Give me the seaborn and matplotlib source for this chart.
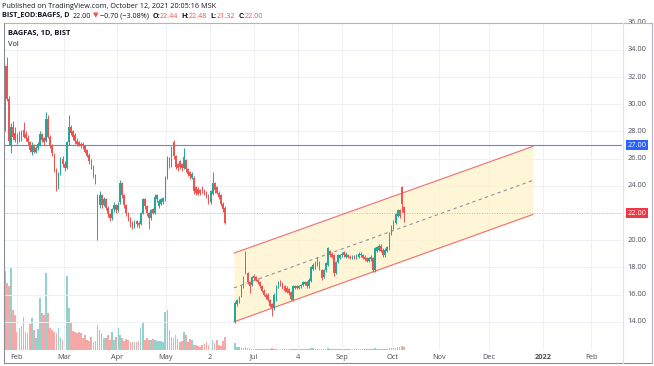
import numpy as np
import matplotlib
matplotlib.use("Agg")
import matplotlib.pyplot as plt
from matplotlib.lines import Line2D
import seaborn as sns

# ---------------------------------------------------------------------------
# Data (BAGFS daily, 2021)
# ---------------------------------------------------------------------------
# segment 1: late Jan -> early Jun
opens1 = [28.4, 32.8, 30.4, 27.0, 28.3, 27.9, 27.6, 27.8, 27.4, 28.1,
          27.8, 27.5, 27.2, 26.5, 27.0, 26.5, 26.8, 27.0, 27.8, 27.5,
          27.3, 28.9, 27.6, 27.0, 26.3, 25.2, 24.0, 24.9, 26.0, 25.6,
          25.3, 27.2, 28.3, 28.0, 27.7, 27.3, 27.2, 27.1, 27.1, 26.9,
          26.6, 26.3, 25.9, 25.4, 24.8, 20.5, 22.6, 23.3, 22.6, 23.0,
          22.4, 21.9, 21.6, 22.3, 22.6, 22.2, 22.8, 24.2, 23.3, 22.6,
          22.0, 21.6, 21.3, 21.0, 21.4, 21.3, 21.2, 22.0, 23.0, 22.5,
          22.0, 21.6, 22.3, 22.0, 23.0, 22.5, 22.7, 22.8, 23.0, 24.6,
          26.0, 25.5, 27.2, 26.2, 25.6, 25.8, 25.6, 25.3, 25.9, 25.2,
          25.0, 24.6, 24.6, 23.9, 23.8, 23.7, 23.9, 23.7, 23.5, 23.3,
          22.8, 23.4, 24.2, 23.9, 23.5, 23.3, 22.7, 22.4]
closes1 = [32.6, 30.4, 27.3, 28.3, 27.6, 27.4, 27.3, 27.4, 27.9, 27.6,
           27.5, 27.2, 26.6, 27.0, 26.5, 26.8, 27.1, 27.8, 27.4, 27.2,
           28.9, 27.6, 27.0, 26.4, 25.2, 24.0, 24.9, 26.0, 25.6, 25.3,
           27.2, 28.3, 27.9, 27.6, 27.3, 27.1, 27.0, 27.0, 26.9, 26.5,
           26.2, 25.8, 25.4, 24.8, 24.3, 22.6, 23.3, 22.6, 23.0, 22.4,
           21.9, 21.6, 22.3, 22.6, 22.2, 22.6, 24.2, 23.3, 22.6, 22.0,
           21.6, 21.2, 21.0, 21.3, 21.2, 21.1, 22.0, 23.0, 22.5, 22.0,
           21.6, 22.2, 22.0, 23.2, 23.3, 22.9, 23.0, 23.1, 24.6, 26.0,
           25.5, 26.7, 26.2, 25.4, 25.3, 25.4, 25.3, 26.1, 25.2, 24.9,
           24.7, 24.9, 23.6, 23.5, 23.4, 23.5, 23.6, 23.4, 23.2, 22.8,
           23.6, 24.2, 23.7, 23.5, 23.2, 22.7, 22.3, 21.3]
highs1 = [32.9, 33.5, 30.6, 28.6, 28.8, 28.3, 27.9, 28.0, 28.1, 28.7,
          28.0, 27.7, 27.3, 27.2, 27.1, 26.9, 27.2, 28.0, 27.9, 27.6,
          29.4, 29.2, 27.7, 27.1, 26.4, 25.3, 25.0, 26.1, 26.2, 25.8,
          27.3, 29.2, 28.5, 28.1, 27.9, 27.5, 27.3, 27.2, 27.2, 27.0,
          26.7, 26.4, 26.0, 25.5, 24.9, 23.4, 23.6, 23.4, 23.2, 23.1,
          22.5, 22.0, 22.4, 22.8, 22.7, 22.8, 24.4, 24.3, 23.4, 22.7,
          22.1, 21.7, 21.4, 21.5, 21.5, 21.4, 22.1, 23.1, 23.1, 22.6,
          22.1, 22.3, 22.4, 23.4, 23.4, 23.0, 23.1, 23.2, 24.7, 26.2,
          26.1, 26.9, 27.4, 26.3, 25.7, 25.9, 25.7, 26.8, 26.0, 25.3,
          25.1, 25.0, 24.7, 24.0, 23.9, 23.8, 24.0, 23.8, 23.6, 23.4,
          23.7, 25.0, 24.3, 24.0, 23.6, 23.4, 22.8, 22.5]
lows1 = [28.0, 30.2, 27.0, 26.4, 27.4, 27.2, 27.1, 27.2, 27.3, 27.5,
         27.3, 27.0, 26.5, 26.3, 26.4, 26.4, 26.6, 26.9, 27.2, 27.0,
         27.2, 27.5, 26.8, 26.2, 25.0, 23.6, 23.8, 24.8, 25.4, 25.1,
         25.2, 27.0, 27.7, 27.4, 27.1, 26.9, 26.9, 26.8, 26.7, 26.4,
         26.1, 25.6, 25.2, 24.6, 24.1, 20.0, 22.4, 22.4, 22.5, 22.2,
         21.7, 21.4, 21.5, 22.1, 22.0, 22.1, 22.7, 23.1, 22.4, 21.8,
         21.4, 21.0, 20.8, 20.9, 21.0, 20.9, 21.1, 21.9, 22.3, 21.8,
         20.8, 21.5, 21.9, 21.9, 22.8, 22.4, 22.6, 22.7, 22.9, 24.5,
         25.3, 25.4, 26.0, 25.2, 25.1, 25.2, 25.1, 25.2, 25.0, 24.7,
         24.5, 24.5, 23.4, 23.3, 23.3, 23.3, 23.5, 23.3, 23.1, 22.7,
         22.7, 23.3, 23.5, 23.4, 23.0, 22.5, 22.1, 21.2]
volumes1 = [235, 200, 190, 245, 120, 105, 55, 65, 73, 100,
            55, 50, 77, 95, 60, 35, 63, 155, 110, 105,
            230, 110, 65, 60, 55, 50, 65, 40, 30, 30,
            220, 125, 80, 57, 55, 50, 55, 50, 35, 45,
            30, 27, 40, 25, 27, 75, 60, 50, 37, 35,
            45, 30, 55, 30, 40, 65, 45, 37, 27, 33,
            30, 25, 25, 25, 23, 27, 65, 83, 30, 35,
            30, 30, 33, 30, 27, 27, 27, 25, 115, 120,
            60, 40, 37, 45, 33, 25, 27, 55, 45, 25,
            33, 30, 15, 15, 13, 10, 15, 17, 23, 15,
            23, 30, 20, 30, 15, 13, 27, 40]

# segment 2: late Jun -> Oct 12
opens2 = [14.0, 15.3, 15.5, 15.9, 16.6, 19.1, 17.6, 16.9, 16.7, 17.4,
          17.3, 17.1, 16.9, 16.6, 16.3, 16.0, 16.0, 15.6, 15.3, 15.0,
          15.6, 16.6, 17.0, 16.8, 16.6, 16.5, 16.4, 16.2, 15.6, 16.5,
          16.6, 16.5, 16.6, 16.7, 16.8, 16.9, 16.6, 17.0, 17.9, 18.0,
          18.2, 18.4, 17.8, 17.3, 17.8, 18.2, 19.2, 19.0, 18.9, 17.6,
          18.4, 18.7, 18.9, 19.1, 18.8, 18.9, 18.8, 18.7, 18.8, 18.7,
          18.8, 18.9, 18.9, 18.8, 18.7, 18.5, 18.6, 18.7, 17.8, 19.2,
          19.3, 19.6, 19.3, 18.9, 19.2, 19.4, 20.5, 20.9, 21.3, 21.8,
          22.2, 23.9, 22.44]
closes2 = [15.4, 15.6, 15.8, 16.6, 17.3, 17.6, 16.9, 16.6, 17.3, 17.2,
           17.1, 16.9, 16.6, 16.3, 16.0, 15.8, 15.6, 15.2, 15.0, 16.0,
           16.6, 16.9, 16.7, 16.5, 16.3, 16.2, 16.1, 15.7, 16.6, 16.6,
           16.5, 16.6, 16.7, 16.9, 16.9, 16.6, 17.1, 18.0, 18.2, 18.4,
           18.5, 17.9, 17.2, 17.8, 18.3, 19.4, 18.9, 18.8, 17.6, 18.4,
           18.9, 18.9, 19.0, 18.9, 19.0, 18.8, 18.7, 18.8, 18.7, 18.9,
           19.0, 19.0, 18.7, 18.6, 18.5, 18.7, 18.8, 17.8, 19.4, 19.5,
           19.6, 19.2, 18.9, 19.3, 19.5, 20.5, 21.0, 21.4, 21.9, 22.2,
           21.8, 22.7, 22.00]
highs2 = [15.5, 15.7, 15.9, 16.7, 17.4, 19.2, 17.7, 17.0, 17.4, 17.5,
          17.4, 17.2, 17.0, 16.7, 16.4, 16.1, 16.1, 15.7, 15.4, 16.1,
          16.7, 17.0, 17.1, 16.9, 16.7, 16.6, 16.5, 16.3, 16.7, 16.7,
          16.7, 16.7, 16.8, 17.0, 17.0, 17.0, 17.2, 18.1, 18.3, 18.5,
          18.8, 18.5, 17.9, 17.9, 18.4, 19.5, 19.3, 19.1, 19.0, 18.5,
          19.0, 19.0, 19.1, 19.2, 19.1, 19.0, 18.9, 18.9, 18.9, 19.0,
          19.1, 19.1, 19.0, 18.9, 18.8, 18.8, 18.9, 18.8, 19.5, 19.6,
          19.7, 19.7, 19.4, 19.4, 19.6, 20.6, 21.1, 21.5, 22.0, 22.3,
          22.3, 24.0, 22.48]
lows2 = [13.9, 15.2, 15.4, 15.8, 16.5, 17.5, 16.8, 16.1, 16.6, 17.1,
         17.0, 16.8, 16.5, 16.2, 15.9, 15.7, 15.5, 15.1, 14.4, 14.9,
         15.5, 16.5, 16.6, 16.4, 16.2, 16.1, 16.0, 15.6, 15.5, 16.4,
         16.4, 16.4, 16.5, 16.6, 16.7, 16.5, 16.5, 16.9, 17.8, 17.9,
         18.1, 17.8, 17.1, 17.2, 17.7, 18.1, 18.8, 18.7, 17.4, 17.5,
         18.3, 18.6, 18.8, 18.8, 18.7, 18.7, 18.6, 18.6, 18.6, 18.6,
         18.7, 18.8, 18.6, 18.5, 18.4, 18.4, 18.5, 17.7, 17.7, 19.1,
         19.2, 19.1, 18.8, 18.8, 19.1, 19.3, 20.4, 20.8, 21.2, 21.7,
         21.6, 22.1, 21.32]
volumes2 = [22, 10, 8, 6, 7, 9, 6, 5, 4, 4,
            3, 3, 4, 3, 3, 3, 4, 3, 5, 4,
            4, 3, 3, 3, 3, 3, 3, 3, 4, 3,
            3, 3, 3, 3, 3, 3, 4, 7, 5, 4,
            4, 3, 3, 3, 4, 6, 4, 3, 4, 3,
            3, 3, 3, 3, 3, 3, 3, 3, 3, 3,
            3, 3, 3, 3, 3, 3, 3, 4, 5, 4,
            3, 3, 3, 3, 4, 5, 5, 6, 7, 8,
            8, 12, 9]
seg2_start = 112  # bar slot where the second block of candles begins

# parallel channel drawing (bar slot, price)
channel_x = [111.4, 256.9]
channel_upper = [19.05, 26.9]
channel_mid = [16.5, 24.4]
channel_lower = [14.0, 21.9]

hline_level = 27.00
last_price = 22.00

price_ticks = [14, 16, 18, 20, 22, 24, 26, 28, 30, 32, 34, 36]
time_tick_pos = [5.7, 28.7, 54.5, 78.3, 99.8, 121.2, 142.6, 164.0, 188.3, 211.2, 235.5, 261.8, 285.2]
time_tick_labels = ["Feb", "Mar", "Apr", "May", "2", "Jul", "4", "Sep", "Oct", "Nov", "Dec", "2022", "Feb"]

# ---------------------------------------------------------------------------
sns.set_theme(style="white")
plt.rcParams['font.family'] = ['Open Sans', 'DejaVu Sans']

UP = "#26a69a"
DOWN = "#ef5350"
TXT = "#131722"

W, H = 654, 366
fig = plt.figure(figsize=(W / 100, H / 100), dpi=100)
fig.patch.set_facecolor("white")

L, R, T, B = 4, 622, 23, 350
axv = fig.add_axes([L / W, 1 - B / H, (R - L) / W, (B - T) / H])
ax = axv.twinx()
ax.set_zorder(axv.get_zorder() + 1)
ax.patch.set_visible(False)

x1 = np.arange(len(closes1))
x2 = seg2_start + np.arange(len(closes2))
xs = np.concatenate([x1, x2])
o = np.array(opens1 + opens2)
c = np.array(closes1 + closes2)
hi = np.array(highs1 + highs2)
lo = np.array(lows1 + lows2)
vol = np.array(volumes1 + volumes2)
up = c >= o

xlim = (-0.49, 300.2)
ax.set_xlim(*xlim)
axv.set_xlim(*xlim)
ax.set_ylim(11.93, 35.97)
axv.set_ylim(0, 977)

# grid
for p in price_ticks:
    ax.axhline(p, color="#eef0f5", lw=0.7, zorder=0)
for t in time_tick_pos:
    ax.axvline(t, color="#eef0f5", lw=0.7, zorder=0)

# volume
vcol = np.where(up, UP, DOWN)
axv.bar(xs, vol, width=0.82, color=vcol, alpha=0.5, linewidth=0)

# channel
ax.fill_between(channel_x, channel_lower, channel_upper, color="#fff3c8", alpha=0.7, lw=0, zorder=1)
sns.lineplot(x=channel_x, y=channel_upper, ax=ax, color="#f07a78", lw=0.9, zorder=2)
sns.lineplot(x=channel_x, y=channel_lower, ax=ax, color="#f07a78", lw=0.9, zorder=2)
sns.lineplot(x=channel_x, y=channel_mid, ax=ax, color="#8f949e", lw=0.8, ls=(0, (3, 3)), zorder=2)

# horizontal lines
ax.axhline(hline_level, color="#6d83dc", lw=0.8, zorder=2)
ax.axhline(last_price, color="#ef5350", lw=0.6, ls=(0, (1, 2)), alpha=0.6, zorder=2)

# candles
ccol = np.where(up, UP, DOWN)
ax.vlines(xs, lo, hi, colors=ccol, lw=0.7, zorder=3)
body = np.abs(c - o)
body = np.where(body < 0.06, 0.06, body)
ax.bar(xs, body, bottom=np.minimum(o, c), width=0.78, color=ccol, linewidth=0, zorder=4)

for a in (ax, axv):
    for s in a.spines.values():
        s.set_visible(False)
    a.set_xticks([])
    a.set_yticks([])
    a.grid(False)

# price scale labels
for p in price_ticks:
    yf = (p - 11.93) / (35.97 - 11.93)
    ax.text(1 + 15 / (R - L), yf, f"{p:.2f}", transform=ax.transAxes, ha="center", va="center",
            fontsize=5.3, color="#4a4e59", clip_on=False)
for lvl, col in ((hline_level, "#2962ff"), (last_price, "#f23645")):
    yf = (lvl - 11.93) / (35.97 - 11.93)
    ax.text(1 + 15 / (R - L), yf, f"{lvl:.2f}", transform=ax.transAxes, ha="center", va="center",
            fontsize=5.3, color="white", clip_on=False,
            bbox=dict(boxstyle="square,pad=0.25", fc=col, ec="none"))

# time scale labels
for t, lab in zip(time_tick_pos, time_tick_labels):
    ax.text(t, -0.022, lab, transform=ax.get_xaxis_transform(), ha="center", va="center",
            fontsize=5.3, color="#4a4e59", fontweight="bold" if lab == "2022" else "normal", clip_on=False)

# frame
def fline(x0, y0, x1_, y1_, col="#b2b5be", lw=0.8):
    fig.add_artist(Line2D([x0 / W, x1_ / W], [1 - y0 / H, 1 - y1_ / H], color=col, lw=lw))

fline(4, 23, 652, 23)
fline(4, 363, 652, 363, col="#8a8e99")
fline(4, 23, 4, 363, col="#8a8e99")
fline(652, 23, 652, 363)
fline(623, 23, 623, 363, col="#e0e3eb")

# legend inside pane
fig.text(8 / W, 1 - 33 / H, "BAGFAS, 1D, BIST", fontsize=5.4, fontweight="bold", color=TXT, va="center")
fig.text(8 / W, 1 - 44 / H, "Vol", fontsize=5.4, color=TXT, va="center")

# header
fig.text(2 / W, 1 - 6 / H, "Published on TradingView.com, October 12, 2021 20:05:16 MSK",
         fontsize=5.2, color=TXT, va="center")
fig.canvas.draw()
renderer = fig.canvas.get_renderer()
runs = [("BIST_EOD:BAGFS, D", TXT, "bold", 3), ("22.00", TXT, "normal", 2), ("▼", DOWN, "normal", 2),
        ("\u22120.70 (\u22123.08%)", TXT, "normal", 3), ("O:", TXT, "bold", 0), ("22.44", DOWN, "normal", 3),
        ("H:", TXT, "bold", 0), ("22.48", DOWN, "normal", 3), ("L:", TXT, "bold", 0),
        ("21.32", DOWN, "normal", 3), ("C:", TXT, "bold", 0), ("22.00", DOWN, "normal", 0)]
xp = 2
for s, col, wt, gap in runs:
    t = fig.text(xp / W, 1 - 16 / H, s, fontsize=5.2, color=col, fontweight=wt, va="center")
    xp += t.get_window_extent(renderer).width + gap

fig.savefig("out.png", dpi=100)
